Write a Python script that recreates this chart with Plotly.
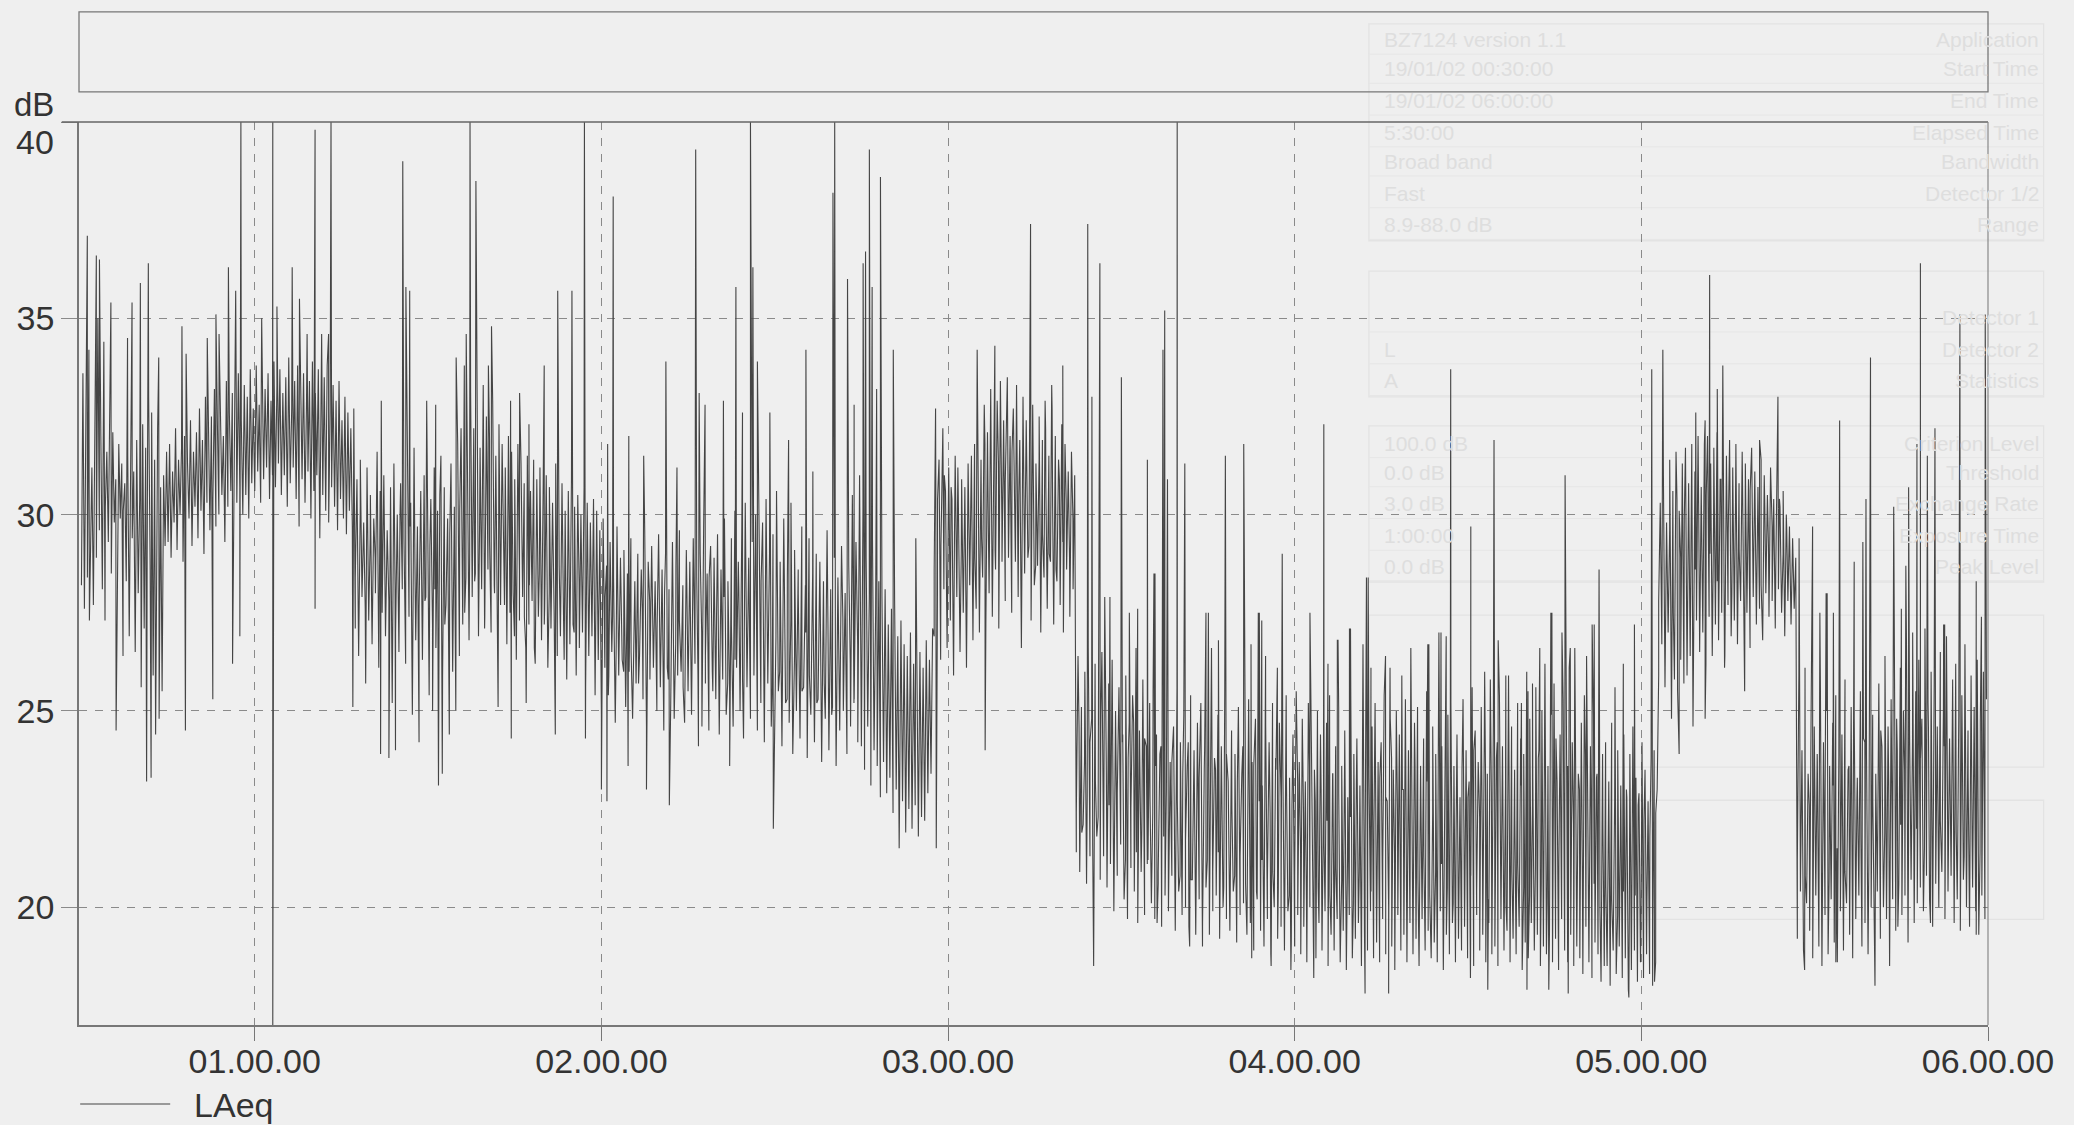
import numpy as np
import plotly.graph_objects as go

# LAeq sweep, hour blocks are (start, end, values)
block_0050 = [28.2,33.6,27.6,32.4,28.4,34.2,29.1,31.2,27.7,33.1,28.9,35.0,29.6,32.0,28.1,34.4,30.2,31.6,29.3,33.2,28.5,32.1,29.8,30.9,28.8,31.8,29.9,31.3,30.1,30.8,28.3,31.5,26.9,30.6,29.4,31.1,26.5,31.9,28.0,30.4,25.6,32.3,27.1,31.7,29.0,33.0,28.6,32.6,25.9,31.4,26.8,32.2,24.8,30.7,25.5,31.0,29.2,31.6]
block_0075 = [29.3,31.8,28.9,31.1,29.8,32.2,29.1,31.4,30.0,31.7,28.8,32.0,29.5,31.3,29.9,32.4,29.2,31.6,30.2,32.1,29.4,32.7,30.1,31.9,29.0,33.0,30.3,32.2,29.6,32.5,30.4,33.2,29.7,32.3,30.0,32.9,30.5,32.0,29.3,33.4,30.2,32.6,30.6,33.1,29.8,32.8,30.3,33.6,30.7,32.4,30.0,33.3,30.5,33.0,29.9,33.7,30.8,32.7]
block_0100 = [30.6,33.8,31.1,32.8,30.3,34.0,30.9,33.2,31.2,33.6,30.4,32.9,31.0,33.9,30.7,33.3,31.3,33.7,30.5,33.1,31.0,33.5,30.2,34.0,30.8,32.7,31.2,33.4,30.4,33.8,29.7,33.0,30.9,33.6,30.3,32.8,31.1,33.4,29.9,33.9,30.6,33.1,31.0,33.7,29.4,32.9,30.5,33.5,30.1,33.8,29.8,32.6,30.7,33.3,30.2,32.9,29.6,33.4,30.4,32.4,29.9,33.0,29.5,32.6,30.1,32.2,29.7,32.7]
block_0129 = [27.1,30.9,26.4,31.4,27.9,29.8,25.8,31.2,27.3,30.5,26.7,29.9,28.0,31.6,26.1,30.2,27.5,31.0,26.9,29.6,27.8,30.7,25.2,31.3,27.0,30.0,26.5,30.8,28.1,29.4,26.2,31.1,27.4,30.3,24.9,31.7,26.8,29.7,27.6,30.6,26.3,31.0,27.9,29.5,25.4,30.4,27.2,31.2,26.6,30.1,28.2,31.5,25.9,30.7,27.7,29.9,24.4,31.3,26.0,30.2,27.3,31.8,26.4,32.2]
block_0160 = [27.2,33.8,28.4,31.6,26.8,33.1,27.9,32.2,28.5,34.0,26.9,31.7,28.1,33.3,27.4,32.5,28.6,31.9,27.0,32.9,28.2,31.5,26.5,32.3,27.7,31.8,28.3,31.2,26.7,32.0,27.5,31.6,28.0,30.9,26.3,31.8,27.3,31.3,27.9,30.8,26.6,31.5,27.2,30.6,27.8,31.4,26.2,30.9,27.4,31.2,26.8,30.5,27.6,31.0,26.1,30.7,27.1,30.3,27.5,31.3,26.4,30.4,26.9,30.8,27.3,30.1,25.8,30.6,26.7,30.9,27.2,30.2,25.9,30.5,26.6,30.0,27.0,30.7,25.6,30.3,26.4,29.8,26.9,30.4,25.4,30.1,26.3,29.6]
block_0200 = [24.9,29.9,26.1,28.7,25.4,29.3,26.5,28.4,24.7,29.7,25.9,28.9,26.3,29.1,25.1,28.5,26.0,29.4,24.8,28.2,25.7,29.0,26.4,28.6,25.3,29.6,24.6,28.8,25.8,29.2,26.2,28.3,25.0,29.5,25.6,28.6,24.5,29.0,26.1,28.1,25.2,29.3,24.8,28.7,25.9,29.6,26.0,28.2,24.7,29.1,25.5,28.8,24.9,29.4,26.2,28.4,25.1,29.0,24.6,29.7,25.7,28.5,24.5,29.2,26.0,28.9,25.3,29.5,24.4,28.6,25.8,29.9,24.9,28.3,25.4,29.4,24.6,30.1,26.1,28.8,25.0,29.6,24.3,30.3,25.6,28.9,24.8,29.3,25.9,30.0,24.5,29.1,25.2,29.8,24.2,30.4,25.7,29.0,24.6,29.5]
block_0250 = [24.4,30.6,25.5,28.8,24.1,29.9,25.2,28.4,24.7,30.3,23.9,29.1,25.0,28.6,24.3,29.7,25.6,28.2,23.8,29.4,24.9,28.5,24.2,29.0,25.3,28.8,23.7,28.3,24.8,29.6,24.0,28.1,25.1,28.9,23.6,28.4,24.5,29.2,25.0,28.0,23.9,28.7,24.6,30.5,25.3,29.3,24.2,31.0]
block_0275 = [24.1,30.2,23.5,28.9,24.6,27.9,23.1,29.4,24.0,27.5,23.6,28.3,22.8,27.9,23.7,28.1,22.9,27.2,23.3,27.6,22.4,27.8,23.0,26.9,22.1,27.3,22.7,26.7,21.9,26.4,22.5,27.0,22.0,26.2,22.6,26.6,21.8,26.5,22.3,26.1,22.2,26.8,22.9,26.3,23.4,27.1]
block_0296 = [26.9,30.9,27.8,31.4,26.3,31.7,28.1,30.6,26.6,31.2,27.3,30.4,25.9,31.5,27.9,30.2,26.5,30.9,27.5,30.7,26.1,31.3,28.2,31.0,26.8,31.8,27.6,32.3,27.0,31.4,28.4,32.8,27.2,32.1,28.0,33.2,27.4,31.7,28.6,32.9,27.1,33.4,28.8,32.4,27.8,33.1,28.9,32.0,27.5,32.7,29.0,33.3,27.9,31.9,26.6,33.0,28.5,32.4,28.9,31.6,27.3,32.8,28.2,31.3,28.7,32.5,27.0,31.9,28.4,32.2,27.6,31.5,28.8,32.7,27.2,32.0,28.3,31.4,27.7,32.3,27.0,31.8,28.6,31.1,27.4,31.6,28.1,31.0]
block_0337 = [21.4,26.4,20.9,25.1,22.1,26.0,20.6,26.6,21.3,24.8,20.3,26.2,21.8,25.2,20.7,26.5,22.0,24.9,20.5,25.7,21.1,26.3,19.9,25.0,20.8,25.6,21.6,24.2,20.2,25.9,19.7,24.7,21.0,25.4,20.4,26.6,19.6,24.5,20.9,25.8,19.8,24.1,21.2,25.2,20.1,25.5,19.7,24.4,20.6,23.9,19.5,25.0,20.3,25.3,19.9,23.7,20.8,24.6,19.4,25.6,20.4,24.2,19.8,24.9,20.0,23.6,19.5,25.4,20.7,24.0,19.3,24.7,20.2,25.2,19.6,23.5,20.5,24.4,19.3,25.7,19.9,23.8,20.3,24.9,19.2,24.1,20.0,25.5,19.7,23.2,19.4,24.5,20.4,23.9,19.1,25.1,19.8,23.4,20.1,24.3,19.3,25.3,19.6,23.7,18.9,24.8,20.2,24.0,19.4,23.1,19.0,24.6,19.7,24.2,18.8,25.2,20.0,23.5,19.2,24.7,19.5,23.9,18.9,25.4,19.9,23.3,19.1,24.4]
block_0400 = [19.0,25.5,19.8,23.7,18.8,24.8,19.5,23.2,18.6,25.2,20.0,24.2,19.1,23.5,18.7,25.0,19.6,24.4,18.9,22.9,19.9,24.7,18.5,25.4,19.3,23.4,18.9,24.1,19.7,25.1,18.6,23.6,19.4,24.5,18.8,22.8,19.8,25.3,18.7,23.9,19.2,24.3,19.6,23.1,18.5,24.9,19.4,25.0,18.9,23.3,19.9,24.6,18.7,25.2,19.1,23.7,18.6,24.2,19.7,25.4,18.8,22.7,19.5,24.8,19.0,23.5,18.4,25.0,19.8,24.4,18.9,23.0,19.3,25.3,18.6,24.0,19.6,23.4,18.8,24.7,19.2,25.1,18.5,23.6,19.7,24.3,18.9,25.5,19.4,22.9,18.7,24.6,19.1,23.9,18.6,25.0,19.9,24.1,18.4,23.3,19.3,24.9,18.8,25.2,19.6,23.6,18.6,24.4,19.2,22.8,18.9,25.3,19.5,24.0,18.7,23.2,19.1,25.6,18.5,24.5,19.8,23.7,18.9,25.1,19.3,24.2,18.6,23.4,19.6,25.8,18.8,24.7,19.0,23.8,18.5,25.4,19.7,24.1,18.9,23.1,19.4,25.9,18.6,24.6,19.2,23.5,18.8,25.2,19.5,24.3,18.4,23.9,19.1,26.0,18.7,24.8,19.6,23.3,18.9,25.6,19.3,24.0,18.5,25.0,19.0,26.2,18.8,23.6,19.4,24.9,18.6,25.7,19.2,23.2,18.4,24.4,19.7,25.3,18.9,23.8,18.6,26.1,19.3,24.2,18.5,25.0,19.0,23.4,18.7,24.7,18.3,25.4,19.5,23.7,18.6,24.1,18.2,24.9,19.1,23.3,18.8,24.5,18.1,23.9,19.2,24.2,18.5,22.9,18.0,24.7,18.9,23.6,18.3,24.0,19.0,23.1,18.2,24.4,18.7,22.8,17.9,23.9,18.4,24.6,18.9,23.3,18.1,22.9,18.6,24.2,18.2,23.5,18.8,22.7,18.3,23.8,18.0,24.0,18.6,23.0]
block_0505 = [25.9,30.3,26.7,31.0,25.6,29.8,27.0,31.4,25.6,30.6,25.8,31.6,25.5,30.1,26.3,31.3,25.7,31.7,25.9,30.8,26.4,31.8,25.9,31.1,27.3,32.0,26.5,30.7,27.0,31.8,26.2,32.0,27.4,31.3,26.4,31.7,27.2,32.1,26.8,30.9,27.5,31.8,26.4,31.5,27.7,31.9,26.9,31.2,27.3,31.8,26.7,30.8,27.8,31.6,27.0,31.3,27.5,30.9,26.6,31.7,27.9,31.1,27.2,30.7,27.6,31.4,26.8,31.0,28.0,30.5,27.4,31.2,27.8,30.4,27.1,30.9,28.1,30.2,27.5,30.6,26.9,30.0,27.8,29.7,27.2,29.4,27.6,28.9]
block_0545 = [19.2,25.9,20.4,24.0,18.9,26.1,20.1,23.4,19.4,25.2,18.7,24.6,20.3,23.7,19.0,25.6,18.5,24.2,19.8,25.0,18.8,23.6,20.2,24.7,19.1,25.4,18.6,23.9,19.9,24.4,18.9,25.8,20.1,23.5,19.3,25.1,18.7,24.8,19.7,23.3,20.3,25.5,19.0,24.3,19.6,23.8,18.8,26.2,20.0,24.9,19.5,23.4,20.4,25.7,19.2,24.1,20.0,26.4,19.7,24.6,18.5,25.3,20.2,26.8,19.4,24.0,20.6,26.1,19.8,25.0,20.3,26.6,19.1,24.4,20.7,27.0,19.6,25.5,20.1,26.3,20.5,24.8,19.9,27.1,20.8,25.2,20.2,26.0,19.5,25.7,20.6,24.6,20.0,26.5,20.9,25.0,19.7,26.9,20.4,24.3,20.8,25.8,19.6,26.2,20.2,24.9,19.4,25.4,20.7,26.7,20.0,24.5,19.5,25.9,20.5,25.1,19.9,26.3,19.3,24.7,20.3,26.0,19.7,25.3]

# second pass inside the dense stretches, shorter swings around the middle of the band
inner_0129 = [28.4,30.2,27.6,29.4,28.9,30.6,27.9,29.1,28.2,30.0,27.4,29.7,28.7,30.3,27.8,29.2,28.1,30.5,27.2,29.5,28.6,30.1,27.5,29.0,28.3,29.8,27.1,29.3,28.0,30.4,27.7,28.8,26.9,28.6,27.4,28.2,26.6,28.5,27.2,28.0,26.8,28.7,26.3,27.9,27.0,28.3]
inner_0200 = [26.3,27.9,25.9,27.4,26.8,28.1,26.0,27.2,26.5,28.3,25.7,27.6,26.9,27.8,26.1,27.1,26.6,28.0,25.8,27.5,26.7,27.3,25.6,28.2,26.2,27.7,25.9,27.0,26.4,28.4,25.5,27.4,26.9,27.9,25.7,27.2,26.3,28.1,25.8,27.6,26.1,27.1,25.4,28.3,26.6,27.5,25.6,26.9,26.0,27.8,25.3,27.3,26.4,28.0,25.5,27.0,25.9,27.6,25.2,26.8,25.7,27.2,24.9,26.5,25.4,27.4,24.8,26.2,25.2,26.7]
inner_0296 = [28.6,30.4,29.2,31.0,28.4,30.7,29.5,31.2,29.0,30.5,29.8,31.5,28.9,30.9,29.4,31.8,29.7,30.6,29.1,31.3,29.9,30.8,29.3,31.6,28.8,30.5,29.6,31.1,29.2,30.3,28.7,31.4,29.5,30.7,29.0,30.2,28.6,30.9,29.3,30.4,28.9,29.9]
inner_0337 = [22.4,24.6,21.9,23.7,22.8,24.2,21.6,23.2,22.3,24.9,21.3,23.5,22.6,24.0,21.7,22.9,22.1,24.4,21.2,23.8,22.5,24.7,21.4,23.1,22.0,24.3,21.1,22.8,22.4,23.6,20.9,24.1,21.8,23.0,21.0,23.7,21.5,22.7,20.8,23.4,21.7,24.2,20.7,22.9,21.6,23.3,20.6,24.0,21.2,22.6,20.9,23.5,21.4,22.8,20.5,23.9,21.1,22.5,20.8,23.2,21.3,24.1,20.6,22.9,21.0,23.6,20.4,22.7,21.2,23.3,20.7,22.4,20.9,23.8,20.5,22.8,21.1,23.1,20.3,22.6]
inner_0400 = [20.8,23.2,21.4,22.4,20.2,23.6,21.1,22.7,20.5,23.0,21.6,22.2,20.3,23.4,21.0,22.9,20.7,23.7,21.3,22.3,20.1,23.1,20.9,22.6,21.5,23.5,20.4,22.1,20.8,23.3,21.2,22.8,20.0,23.8,21.4,22.5,20.6,23.0,20.2,22.2,21.0,23.6,20.7,22.7,21.3,23.2,20.3,22.4,20.9,23.9,21.1,22.6,20.5,23.3,20.1,22.0,21.2,23.5,20.6,22.8,20.8,24.0,20.4,22.3,21.0,23.4,20.2,22.9,21.3,24.2,20.7,22.5,20.0,23.7,20.9,22.2,21.1,23.1,20.5,24.1,20.3,22.6,21.0,23.8,20.6,22.4,20.1,23.3,20.8,24.3,21.2,22.7,20.4,23.6,20.7,22.1,20.0,23.0,20.9,23.9,20.3,22.5,20.6,23.4,19.9,22.0,20.5,23.2,20.2,22.7,19.8,22.3,20.4,23.0,19.9,21.9,20.3,22.6,19.7,22.2,20.1,21.8,19.6,22.4]
inner_0505 = [27.8,30.1,28.4,29.6,27.5,30.4,28.9,29.9,28.1,30.7,28.6,29.3,27.9,30.5,29.0,29.8,28.3,30.9,28.7,29.5,28.0,30.3,29.1,30.0,28.5,30.6,28.8,29.4,28.2,30.2,29.2,29.7,28.6,30.4,29.0,29.6]
inner_0545 = [21.2,23.4,20.8,22.6,21.7,23.9,21.0,22.9,20.7,23.1,21.5,22.4,20.9,23.6,21.3,22.8,21.8,24.2,21.1,22.7,21.6,24.5,21.9,23.2,21.4,24.8,22.1,23.5,21.7,24.3,22.0,23.8,21.5,24.6,21.8,23.0,22.2,24.1,21.6,23.7,21.9,24.4,21.3,23.3,21.7,24.0,21.4,23.6]

band_starts = [0.50, 0.75, 1.00, 1.29, 1.60, 2.00, 2.50, 2.75, 2.96, 3.37, 4.00, 5.05, 5.45]
band_ends = [0.75, 1.00, 1.29, 1.60, 2.00, 2.50, 2.75, 2.96, 3.37, 4.00, 5.05, 5.45, 6.00]
band_values = [block_0050, block_0075, block_0100, block_0129, block_0160, block_0200, block_0250,
               block_0275, block_0296, block_0337, block_0400, block_0505, block_0545]
inner_starts = [1.29, 2.00, 2.96, 3.37, 4.00, 5.05, 5.45]
inner_ends = [1.95, 2.75, 3.37, 4.00, 5.05, 5.43, 6.00]
inner_values = [inner_0129, inner_0200, inner_0296, inner_0337, inner_0400, inner_0505, inner_0545]

# single peaks standing clear of the band
peak_hours = [0.517,0.543,0.552,0.585,0.646,0.633,0.670,0.693,0.723,0.790,0.802,0.863,0.888,0.897,0.924,0.945,0.960,1.02,1.052,1.064,1.108,1.129,1.151,1.174,1.193,1.213,1.220,1.365,1.427,1.436,1.447,1.496,1.522,1.581,1.61,1.621,1.638,1.683,1.674,1.738,1.764,1.791,1.835,1.874,1.915,1.951,2.034,2.079,2.018,2.122,2.186,2.218,2.272,2.282,2.430,2.388,2.407,2.352,2.299,2.437,2.45,2.486,2.54,2.59,2.61,2.668,2.673,2.71,2.729,2.755,2.762,2.773,2.781,2.805,2.794,2.842,2.907,2.964,2.985,3.084,3.135,3.171,3.238,3.331,3.299,3.28,3.403,3.415,3.438,3.5,3.575,3.625,3.62,3.661,3.597,3.683,3.633,3.751,3.8,3.853,3.898,3.964,4.044,4.084,4.212,4.161,4.125,4.45,4.575,4.508,4.78,5.03,5.062,5.197,5.235,5.219,5.157,5.184,5.394,5.341,5.572,5.661,5.805,5.795,5.825,5.847,5.771,5.728,5.648,5.919,5.992,5.494,5.455,4.207,4.878,5.533,5.966,3.895,3.744,4.422,4.158,4.384,4.742,4.864,5.872,5.75,
              3.452,3.467,3.523,3.547,3.594,3.78,3.76,3.874,3.905,3.916,3.95,4.123,4.096,4.197,4.22,4.262,4.275,4.309,4.335,4.387,4.416,4.437,4.587,4.548,4.609,4.654,4.707,4.739,4.771,4.795,4.808,4.842,4.858,4.924,4.948,4.98,4.686,4.673,5.515,5.536,5.554,5.614,5.639,5.763,5.875,5.981]
peak_db = [37.1,36.6,36.5,35.4,35.4,34.5,35.9,36.4,34.0,34.8,34.1,34.5,35.1,34.6,36.3,35.7,40,35,40,35.3,36.3,35.5,34.6,39.8,34.6,34.6,40,32.9,39.0,35.8,35.7,32.9,32.8,34.0,34.6,40,38.5,34.8,33.8,32.9,33.1,32.3,33.8,35.7,35.7,40,38.1,32,31.8,31.5,33.9,31.2,39.3,33.1,40,35.8,32.6,32.9,32.8,36.3,33.9,32.6,31.9,34.2,31.1,38.2,40,36,32.8,36.4,36.7,39.3,35.8,38.6,33.2,34.2,29.4,32.7,32.2,34.2,34.3,33.5,37.4,33.8,33.3,32.9,37.4,33,36.4,33.5,31.4,35.2,34.2,40,28.5,31.3,30.9,27.5,31.5,31.8,27.5,29,27.5,32.3,28.4,27.1,26.8,33.7,31.9,29.7,31,33.7,34.2,36.1,33.8,33.2,32.6,32.4,33,31.9,32.4,34,36.4,31.8,31.5,32.2,30.7,30.2,30.4,35.1,35.1,29.7,29.4,28.4,28.6,28,28.3,27.5,27.5,27,27.1,26.7,27.5,27.2,27.2,27.6,
           27.9,27.9,27.5,27.6,28.5,26.8,26.6,26.7,27.3,26.4,26.1,26.8,26.2,26.7,26.1,26.4,26.1,25.9,26.6,26.7,27,26.9,26.8,26,25.9,25.2,26.6,27.5,27,26.6,26.6,26.4,27.2,25.6,26.2,27.2,25.7,25.5,27.5,28,27.5,28.8,29.3,28.7,27.2,27.4]

# single dips below the band
dip_hours = [0.523,0.568,0.6,0.62,0.688,0.701,0.714,0.80,0.879,0.936,0.957,1.052,1.174,1.283,1.32,1.363,1.387,1.406,1.474,1.513,1.53,1.541,1.58,1.702,1.74,1.783,1.867,1.954,2.0,2.016,2.077,2.13,2.196,2.28,2.37,2.496,2.859,2.966,3.107,3.42,3.697,3.734,3.603,3.876,3.932,3.989,4.055,4.149,4.203,4.271,4.507,4.557,4.67,4.733,4.789,4.893,4.964,5.038,5.109,5.184,5.298,5.471,5.561,5.674,5.74,5.834,5.966,5.087,5.149,5.24]
dip_db = [27.3,27.3,24.5,26.4,23.2,23.3,24.4,24.5,25.3,26.2,26.9,17,27.6,25.1,25.7,23.9,23.8,24,24.2,25,23.1,23.4,25,25.1,24.3,25.2,24.4,24.3,23,22.7,23.6,23,22.6,24.1,23.6,22,21.5,21.5,24,18.5,19,19,19.6,18.7,18.5,18.4,18.2,18.4,17.8,17.8,18.2,17.9,17.9,17.9,17.8,18.5,17.7,18.1,23.9,24.8,25.5,18.4,18.6,18,19.5,19.6,19.3,24.8,24.6,26.1]

hour_ticks = [1, 2, 3, 4, 5, 6]
hour_labels = ["01.00.00", "02.00.00", "03.00.00", "04.00.00", "05.00.00", "06.00.00"]
db_ticks = [20, 25, 30, 35, 40]
db_labels = ["20", "25", "30", "35", ""]

# the faint table showing through the paper
ghost_labels = ["Application", "Start Time", "End Time", "Elapsed Time", "Bandwidth", "Detector 1/2", "Range",
                "Detector 1", "Detector 2", "Statistics", "Criterion Level", "Threshold", "Exchange Rate",
                "Exposure Time", "Peak Level"]
ghost_values = ["BZ7124 version 1.1", "19/01/02 00:30:00", "19/01/02 06:00:00", "5:30:00", "Broad band", "Fast",
                "8.9-88.0 dB", "", "L", "A", "100.0 dB", "0.0 dB", "3.0 dB", "1:00:00", "0.0 dB"]
ghost_rows = [30, 52, 76, 100, 122, 146, 170, 240, 264, 288, 335, 357, 381, 405, 428]
ghost_box_tops = [18, 205, 322, 465, 605]
ghost_box_bottoms = [182, 300, 440, 580, 695]

hours = np.concatenate([np.linspace(s, e, len(v), endpoint=False)
                        for s, e, v in zip(band_starts + inner_starts, band_ends + inner_ends, band_values + inner_values)]
                       + [peak_hours, dip_hours])
levels = np.concatenate(band_values + inner_values + [peak_db, dip_db])
order = np.argsort(hours, kind="stable")

BG = "#EFEFEF"
INK = "#333333"
GRID = "#8A8A8A"
W, H = 2074, 1125
LEFT, RIGHT, TOP, BOTTOM = 79.4, 1988, 122, 1025
SCALE = 2074 / 1568

def px(x):
    return (x * SCALE - LEFT) / (RIGHT - LEFT)

def py(y):
    return (BOTTOM - y * SCALE) / (BOTTOM - TOP)

fig = go.Figure()
fig.add_trace(go.Scatter(x=hours[order], y=levels[order], mode="lines", name="\u00a0\u00a0LAeq",
                         line=dict(color="#454545", width=1.1)))

fig.update_layout(
    width=W, height=H,
    margin=dict(l=LEFT, r=W - RIGHT, t=TOP, b=H - BOTTOM, autoexpand=False),
    paper_bgcolor=BG, plot_bgcolor=BG,
    font=dict(family="Liberation Sans", size=34, color=INK),
    showlegend=True,
    legend=dict(x=-0.002, xanchor="left", y=-0.088, yanchor="middle", itemwidth=90, bgcolor="rgba(0,0,0,0)",
                font=dict(size=34), borderwidth=0),
)
fig.update_xaxes(range=[0.493, 6], tickmode="array", tickvals=hour_ticks, ticktext=hour_labels,
                 showline=True, linecolor="#777777", linewidth=1.5, mirror=False, zeroline=False,
                 showgrid=True, gridcolor=GRID, griddash="8px,8px", gridwidth=1.3,
                 ticks="outside", ticklen=14, tickcolor="#777777", tickwidth=1.3, tickangle=0,
                 ticklabelstandoff=-9)
fig.update_yaxes(range=[17, 40], tickmode="array", tickvals=db_ticks, ticktext=db_labels,
                 showline=True, linecolor="#777777", linewidth=1.5, zeroline=False,
                 showgrid=True, gridcolor=GRID, griddash="8px,8px", gridwidth=1.3,
                 ticks="outside", ticklen=16, tickcolor=GRID, tickwidth=1.3)

# header box and top rule of the plot
fig.add_shape(type="rect", xref="paper", yref="paper", x0=0, x1=1, y0=py(69.5), y1=py(9),
              line=dict(color="#777777", width=1.3))
fig.add_shape(type="line", xref="paper", yref="paper", x0=px(47), x1=1, y0=1, y1=1,
              line=dict(color="#666666", width=1.5))
fig.add_shape(type="line", xref="paper", yref="paper", x0=1, x1=1, y0=0, y1=1,
              line=dict(color="#888888", width=1.2))

fig.add_annotation(text="40", xref="paper", yref="paper", x=px(43), y=py(107), xanchor="right", yanchor="middle",
                   showarrow=False, font=dict(size=34, color=INK))
fig.add_annotation(text="dB", xref="paper", yref="paper", x=px(43), y=py(79), xanchor="right", yanchor="middle",
                   showarrow=False, font=dict(size=33, color=INK))

for top, bottom in zip(ghost_box_tops, ghost_box_bottoms):
    fig.add_shape(type="rect", xref="paper", yref="paper", x0=px(1035), x1=px(1545), y0=py(bottom), y1=py(top),
                  layer="below", line=dict(color="#E3E3E3", width=1.3))
for row in ghost_rows:
    fig.add_shape(type="line", xref="paper", yref="paper", x0=px(1035), x1=px(1545), y0=py(row + 11), y1=py(row + 11),
                  layer="below", line=dict(color="#E6E6E6", width=1))
for label, value, row in zip(ghost_labels, ghost_values, ghost_rows):
    fig.add_annotation(text=label, xref="paper", yref="paper", x=px(1543), y=py(row), xanchor="right",
                       yanchor="middle", showarrow=False, font=dict(size=21, color="#DEDEDE"))
    if value:
        fig.add_annotation(text=value, xref="paper", yref="paper", x=px(1045), y=py(row), xanchor="left",
                           yanchor="middle", showarrow=False, font=dict(size=21, color="#DEDEDE"))

fig.write_html("out.html", config={"displayModeBar": False},
               post_script="document.body.style.margin='0';document.body.style.overflow='hidden';")
